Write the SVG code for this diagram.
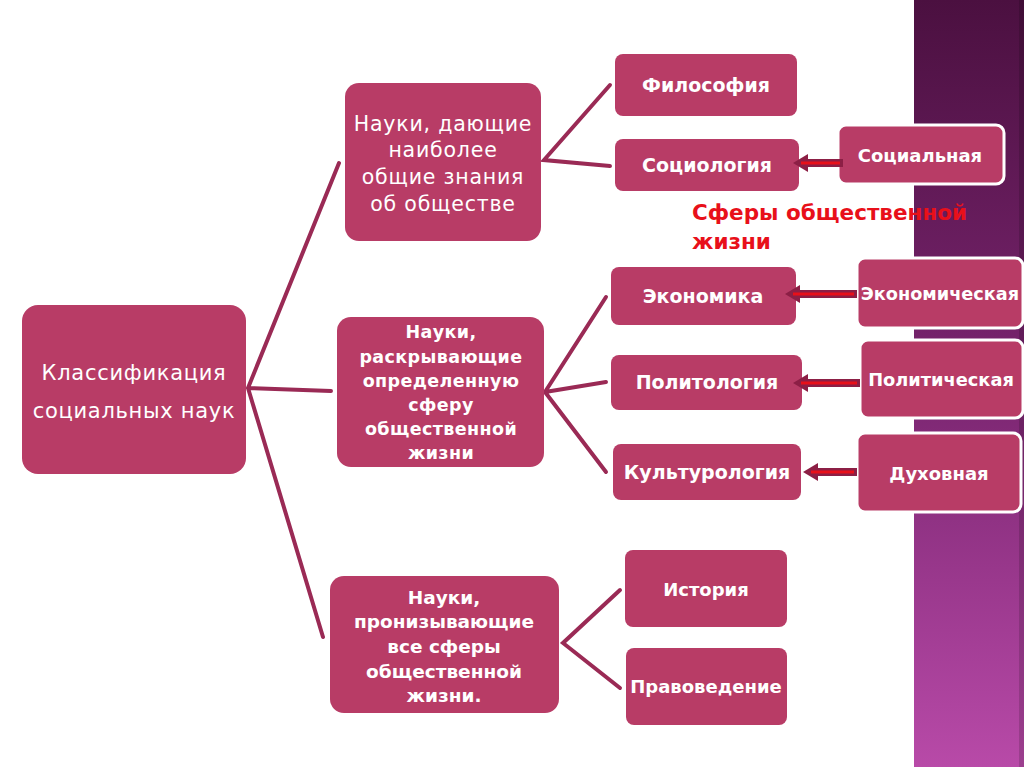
<svg xmlns="http://www.w3.org/2000/svg" width="1024" height="767" viewBox="0 0 1024 767">
<defs>
<linearGradient id="strip" x1="0" y1="0" x2="0" y2="1">
<stop offset="0" stop-color="#4b1040"/>
<stop offset="0.5" stop-color="#7a2570"/>
<stop offset="1" stop-color="#b84aa8"/>
</linearGradient>
</defs>
<style>
.box{fill:#b83c66}
.wb{fill:#b83c66;stroke:#ffffff;stroke-width:3}
.t{fill:#ffffff;font-family:"DejaVu Sans",sans-serif;font-weight:bold;text-anchor:middle}
.tn{fill:#ffffff;font-family:"DejaVu Sans",sans-serif;text-anchor:middle}
.c{stroke:#9a2a55;stroke-width:4;fill:none;stroke-linecap:round}
.ash{stroke:#8c1f45;stroke-width:8;fill:none}
.asr{stroke:#e8101a;stroke-width:3;fill:none}
.ahd{fill:#8c1f45}
.red{fill:#e8101a;font-family:"DejaVu Sans",sans-serif;font-weight:bold;font-size:21.5px}
</style>
<rect x="0" y="0" width="1024" height="767" fill="#ffffff"/>
<rect x="914" y="0" width="110" height="767" fill="url(#strip)"/>
<rect x="1019" y="0" width="5" height="767" fill="#000000" opacity="0.15"/>

<g id="connectors">
<path class="c" d="M248,388 L339,163 M248,388 L331,391 M248,388 L323,637"/>
<path class="c" d="M610,85 L544,160 L610,166"/>
<path class="c" d="M606,297 L545,392 L606,382 M545,392 L606,472"/>
<path class="c" d="M620,590 L563,643 L620,688"/>
</g>

<g id="root">
<rect class="box" x="22" y="305" width="224" height="169" rx="16"/>
<text class="tn" font-size="21" letter-spacing="0.7" x="134" y="380">Классификация</text>
<text class="tn" font-size="21" letter-spacing="0.7" x="134" y="418">социальных наук</text>
</g>

<g id="general">
<rect class="box" x="345" y="83" width="196" height="158" rx="14"/>
<text class="tn" font-size="20.5" letter-spacing="0.8" x="443" y="131">Науки, дающие</text>
<text class="tn" font-size="20.5" letter-spacing="0.8" x="443" y="157">наиболее</text>
<text class="tn" font-size="20.5" letter-spacing="0.8" x="443" y="184">общие знания</text>
<text class="tn" font-size="20.5" letter-spacing="0.8" x="443" y="211">об обществе</text>
</g>

<g id="specific">
<rect class="box" x="337" y="317" width="207" height="150" rx="14"/>
<text class="t" font-size="17.5" letter-spacing="0.4" x="441" y="338">Науки,</text>
<text class="t" font-size="17.5" letter-spacing="0.4" x="441" y="363">раскрывающие</text>
<text class="t" font-size="17.5" letter-spacing="0.4" x="441" y="387">определенную</text>
<text class="t" font-size="17.5" letter-spacing="0.4" x="441" y="411">сферу</text>
<text class="t" font-size="17.5" letter-spacing="0.4" x="441" y="435">общественной</text>
<text class="t" font-size="17.5" letter-spacing="0.4" x="441" y="459">жизни</text>
</g>

<g id="pervasive">
<rect class="box" x="330" y="576" width="229" height="137" rx="14"/>
<text class="t" font-size="18.5" x="444" y="604">Науки,</text>
<text class="t" font-size="18.5" x="444" y="628">пронизывающие</text>
<text class="t" font-size="18.5" x="444" y="653">все сферы</text>
<text class="t" font-size="18.5" x="444" y="678">общественной</text>
<text class="t" font-size="18.5" x="444" y="702">жизни.</text>
</g>

<g id="philosophy">
<rect class="box" x="615" y="54" width="182" height="62" rx="8"/>
<text class="t" font-size="19" x="706" y="92">Философия</text>
</g>
<g id="sociology">
<rect class="box" x="615" y="139" width="184" height="52" rx="8"/>
<text class="t" font-size="19" x="707" y="172">Социология</text>
</g>
<g id="social">
<rect class="wb" x="838" y="125" width="166" height="59" rx="8"/>
<text class="t" font-size="18" x="920" y="162">Социальная</text>
</g>

<g id="spheres-label">
<text class="red" x="692" y="220">Сферы общественной</text>
<text class="red" x="692" y="249">жизни</text>
</g>

<g id="economics">
<rect class="box" x="611" y="267" width="185" height="58" rx="8"/>
<text class="t" font-size="19" x="703" y="303">Экономика</text>
</g>
<g id="economic">
<rect class="wb" x="857" y="258" width="166" height="70" rx="8"/>
<text class="t" font-size="17.7" x="940" y="300">Экономическая</text>
</g>
<g id="politology">
<rect class="box" x="611" y="355" width="191" height="55" rx="8"/>
<text class="t" font-size="19" x="707" y="389">Политология</text>
</g>
<g id="political">
<rect class="wb" x="860" y="340" width="163" height="78" rx="8"/>
<text class="t" font-size="17.8" x="941" y="386">Политическая</text>
</g>
<g id="culturology">
<rect class="box" x="613" y="444" width="188" height="56" rx="8"/>
<text class="t" font-size="19" x="707" y="479">Культурология</text>
</g>
<g id="spiritual">
<rect class="wb" x="857" y="433" width="164" height="79" rx="8"/>
<text class="t" font-size="18" x="939" y="480">Духовная</text>
</g>
<g id="history">
<rect class="box" x="625" y="550" width="162" height="77" rx="8"/>
<text class="t" font-size="18" x="706" y="596">История</text>
</g>
<g id="law">
<rect class="box" x="626" y="648" width="161" height="77" rx="8"/>
<text class="t" font-size="18" x="706" y="693">Правоведение</text>
</g>

<g id="arrows">
<line class="ash" x1="843" y1="163" x2="806" y2="163"/>
<polygon class="ahd" points="793,163 808,154 808,172"/>
<line class="asr" x1="840" y1="163" x2="801" y2="163"/>
<line class="ash" x1="857" y1="294" x2="798" y2="294"/>
<polygon class="ahd" points="785,294 800,285 800,303"/>
<line class="asr" x1="854" y1="294" x2="793" y2="294"/>
<line class="ash" x1="860" y1="383" x2="806" y2="383"/>
<polygon class="ahd" points="793,383 808,374 808,392"/>
<line class="asr" x1="857" y1="383" x2="801" y2="383"/>
<line class="ash" x1="857" y1="472" x2="816" y2="472"/>
<polygon class="ahd" points="803,472 818,463 818,481"/>
<line class="asr" x1="854" y1="472" x2="811" y2="472"/>
</g>
</svg>
